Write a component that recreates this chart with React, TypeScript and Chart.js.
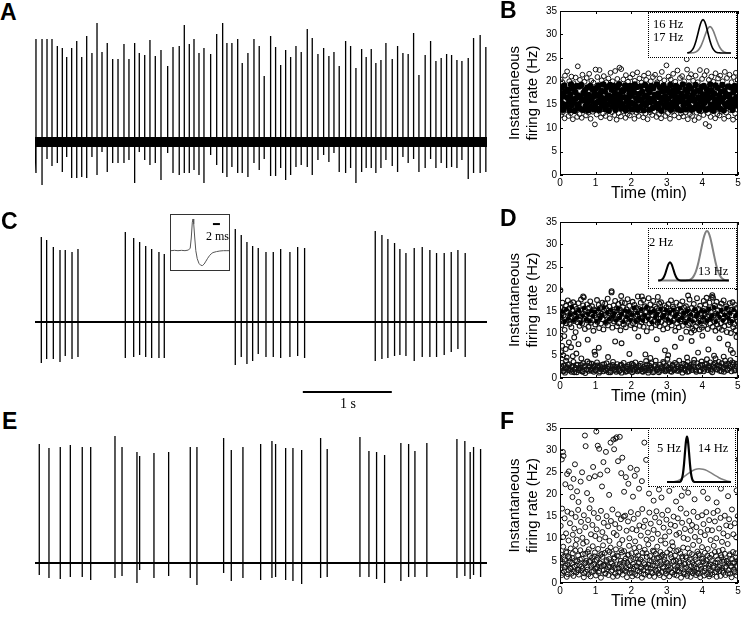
import React, { useEffect, useRef } from "react";
import { Chart, registerables } from "chart.js";
Chart.register(...registerables);

const SANS = '"Liberation Sans", Arial, Helvetica, sans-serif';
const SERIF = '"Liberation Serif", "Times New Roman", Times, serif';

// ---------------- traces (time in s, amplitude in arbitrary units, baseline 0) -------------
const TRACE_DURATION_S = 5.08;

const traceASpikeTimes = [0.011,0.079,0.135,0.191,0.251,0.307,0.356,0.412,0.469,0.525,0.581,0.640,0.697,0.753,0.812,0.873,0.933,1.000,1.056,1.120,1.172,1.233,1.292,1.352,1.416,1.491,1.551,1.621,1.678,1.734,1.787,1.843,1.899,1.974,2.042,2.109,2.157,2.213,2.278,2.329,2.393,2.461,2.520,2.576,2.648,2.704,2.761,2.817,2.873,2.933,2.992,3.060,3.116,3.180,3.244,3.303,3.360,3.419,3.491,3.547,3.607,3.671,3.722,3.779,3.831,3.888,3.944,4.015,4.075,4.135,4.194,4.255,4.315,4.385,4.446,4.506,4.565,4.626,4.682,4.742,4.798,4.869,4.929,5.003,5.067];
const traceAPeaks = [103,103,103,103,96,94,85,94,101,85,106,89,119,90,99,83,83,98,83,99,89,87,102,86,92,76,95,96,117,98,103,89,94,88,108,119,99,99,103,79,89,103,96,66,106,95,77,92,85,96,90,113,104,88,94,86,90,76,101,96,74,93,85,93,79,82,99,83,96,89,88,109,67,87,101,81,84,88,87,82,81,84,104,107,95];
const traceATroughs = [-31,-43,-17,-24,-21,-30,-15,-36,-36,-35,-36,-15,-33,-10,-30,-21,-21,-21,-18,-41,-10,-18,-23,-21,-38,-11,-31,-33,-31,-31,-28,-33,-41,-13,-23,-31,-35,-25,-31,-31,-35,-21,-28,-17,-34,-34,-26,-38,-33,-25,-23,-25,-33,-18,-13,-20,-11,-30,-31,-26,-41,-30,-26,-26,-31,-26,-18,-24,-30,-15,-21,-17,-30,-26,-17,-26,-21,-26,-25,-26,-18,-37,-31,-31,-30];

const traceCSpikeTimes = [0.071,0.131,0.206,0.281,0.340,0.416,0.483,1.015,1.109,1.176,1.244,1.311,1.393,1.453,2.251,2.318,2.382,2.446,2.509,2.596,2.678,2.761,2.865,2.952,3.030,3.824,3.899,3.966,4.041,4.101,4.169,4.262,4.352,4.438,4.513,4.599,4.678,4.753,4.835];
const traceCPeaks = [85,82,75,72,72,70,73,90,84,80,76,73,70,68,93,87,80,76,74,70,70,73,70,75,74,91,87,83,79,73,69,74,75,72,69,69,70,72,69];
const traceCTroughs = [-41,-37,-37,-40,-34,-37,-35,-36,-35,-33,-35,-36,-36,-36,-43,-35,-42,-39,-32,-35,-35,-36,-35,-34,-36,-39,-37,-36,-34,-33,-34,-39,-35,-35,-35,-33,-30,-27,-35];
const scaleBarStartS = 3.01;
const scaleBarLengthS = 1;
const scaleBarLevel = -70;

const traceESpikeTimes = [0.048,0.157,0.284,0.397,0.531,0.626,0.899,0.978,1.146,1.176,1.337,1.502,1.745,1.820,2.120,2.206,2.337,2.536,2.663,2.704,2.817,2.899,2.997,3.210,3.284,3.652,3.753,3.839,3.929,4.112,4.199,4.270,4.404,4.742,4.831,4.891,4.929,5.008];
const traceEPeaks = [119,115,116,118,116,116,127,116,111,107,110,111,116,116,125,113,116,119,122,119,115,115,113,125,114,126,112,111,108,120,119,112,120,124,122,111,116,114];
const traceETroughs = [-12,-15,-16,-14,-14,-17,-15,-13,-20,-7,-15,-13,-15,-22,-10,-18,-15,-17,-15,-14,-17,-18,-21,-15,-14,-14,-14,-16,-20,-18,-14,-14,-14,-15,-13,-16,-12,-14];

// ---------------- inset C: average spike waveform (ms, normalised) --------------------------
const insetCTimesMs = [0,1,2,3,4,5,5.5,5.8,6.1,6.3,6.5,6.8,7.1,7.5,8,8.5,9,9.5,10,10.5,11,11.5,12,13,14,15,16,16.6];
const insetCWave = [0,0.01,0,0.01,0,0.02,0.08,0.4,0.9,1.0,0.85,0.4,0,-0.25,-0.4,-0.46,-0.47,-0.42,-0.33,-0.24,-0.16,-0.1,-0.06,-0.03,-0.01,0,0,0];
const insetCBarMs = [12, 14];
const insetCBarLevel = 0.84;

// ---------------- rate distributions in insets ----------------------------------------------
const insetBHz = [13.75,14,14.25,14.5,14.75,15,15.25,15.5,15.75,16,16.25,16.5,16.75,17,17.25,17.5,17.75,18,18.25,18.5,18.75,19,19.25,19.5,19.75,20];
const insetBBlack = [0.006,0.017,0.044,0.10,0.203,0.36,0.563,0.775,0.938,1,0.938,0.775,0.563,0.36,0.203,0.10,0.044,0.017,0.006,0.002,0,0,0,0,0,0];
const insetBGray = [0,0.001,0.002,0.006,0.015,0.035,0.072,0.136,0.23,0.36,0.51,0.65,0.75,0.79,0.75,0.65,0.51,0.36,0.23,0.136,0.072,0.035,0.015,0.006,0.002,0.001];

const insetDHz = [-1.5,-1,-0.5,0,0.5,1,1.5,2,2.5,3,3.5,4,4.5,5,5.5,6,6.5,7,7.5,8,8.5,9,9.5,10,10.5,11,11.5,12,12.5,13,13.5,14,14.5,15,15.5,16,16.5,17,17.5,18,18.5,19,19.5];
const insetDBlack = [0,0.004,0.016,0.05,0.12,0.225,0.326,0.37,0.326,0.225,0.12,0.05,0.016,0.004,0,0,0,0,0,0,0,0,0,0,0,0,0,0,0,0,0,0,0,0,0,0,0,0,0,0,0,0,0];
const insetDGray = [0,0,0,0,0,0,0,0,0,0,0,0,0,0,0,0,0.002,0.004,0.009,0.021,0.044,0.085,0.151,0.25,0.381,0.54,0.707,0.857,0.962,1,0.962,0.857,0.707,0.54,0.381,0.25,0.151,0.085,0.044,0.021,0.009,0.004,0.002];

const insetFBlackHz = [0,3,3.25,3.5,3.75,4,4.25,4.5,4.75,5,5.25,5.5,5.75,6,6.25,6.5,6.75,7,16];
const insetFBlack = [0,0,0.005,0.024,0.076,0.19,0.39,0.66,0.9,1,0.9,0.66,0.39,0.19,0.076,0.024,0.005,0,0];
const insetFGrayHz = [0,1,2,3,4,5,6,7,8,9,10,11,12,13,14,15,16];
const insetFGray = [0,0.002,0.01,0.04,0.1,0.17,0.23,0.275,0.29,0.28,0.25,0.2,0.145,0.095,0.055,0.025,0.008];

// ---------------- instantaneous firing rate scatter (t in min, rate in Hz) --------------------
type P = [number, number];
const rateBCore: P[] = [
[0.01,16.2],[0.02,14.1],[0.04,18.6],[0.05,15.3],[0.07,17.4],[0.09,13.9],[0.11,16.8],[0.12,19.1],[0.14,15.0],[0.16,17.9],[0.19,14.6],[0.21,16.5],[0.23,18.2],
[0.26,15.7],[0.27,13.8],[0.29,17.2],[0.31,19.3],[0.33,14.9],[0.35,16.1],[0.37,18.4],[0.39,15.5],[0.41,13.7],[0.43,17.7],[0.45,16.4],[0.47,19.0],[0.49,14.4],
[0.51,17.0],[0.52,15.1],[0.54,18.9],[0.56,14.2],[0.58,16.6],[0.6,19.2],[0.62,15.9],[0.64,13.9],[0.66,17.5],[0.68,16.0],[0.7,18.1],[0.72,14.7],[0.74,16.9],
[0.76,15.4],[0.77,18.7],[0.79,13.8],[0.81,17.1],[0.83,16.3],[0.85,19.0],[0.87,14.5],[0.89,15.8],[0.91,18.3],[0.93,16.7],[0.95,14.0],[0.97,17.6],[0.99,15.2],
[1.01,18.5],[1.02,14.3],[1.04,16.9],[1.06,15.6],[1.08,19.1],[1.1,13.9],[1.12,17.3],[1.14,16.0],[1.16,18.0],[1.18,14.8],[1.2,16.4],[1.22,19.3],[1.24,15.3],
[1.26,17.8],[1.27,14.1],[1.29,16.2],[1.31,18.8],[1.33,15.0],[1.35,17.0],[1.37,13.7],[1.39,16.8],[1.41,19.2],[1.43,15.7],[1.45,18.2],[1.47,14.6],[1.49,16.5],
[1.51,19.0],[1.52,15.4],[1.54,17.5],[1.56,13.9],[1.58,16.1],[1.6,18.6],[1.62,14.9],[1.64,17.2],[1.66,19.4],[1.68,15.9],[1.7,16.7],[1.72,14.2],[1.74,18.1],
[1.76,15.1],[1.77,17.9],[1.79,14.4],[1.81,16.6],[1.83,19.1],[1.85,13.8],[1.87,15.7],[1.89,18.4],[1.91,16.3],[1.93,14.7],[1.95,17.4],[1.97,19.0],[1.99,15.5],
[2.01,16.9],[2.02,14.0],[2.04,18.2],[2.06,15.2],[2.08,17.6],[2.1,19.3],[2.12,14.8],[2.14,16.4],[2.16,18.8],[2.18,13.9],[2.2,15.9],[2.22,17.3],[2.24,16.1],
[2.26,14.5],[2.27,18.9],[2.29,16.0],[2.31,17.8],[2.33,15.3],[2.35,13.8],[2.37,16.7],[2.39,19.2],[2.41,14.9],[2.43,17.0],[2.45,15.6],[2.47,18.3],[2.49,16.4],
[2.51,13.9],[2.52,17.7],[2.54,15.5],[2.56,19.0],[2.58,16.2],[2.6,14.3],[2.62,18.5],[2.64,15.8],[2.66,17.1],[2.68,14.6],[2.7,16.9],[2.72,19.3],[2.74,15.1],
[2.76,17.4],[2.77,14.2],[2.79,16.6],[2.81,18.7],[2.83,15.4],[2.85,13.7],[2.87,17.9],[2.89,16.1],[2.91,19.1],[2.93,14.8],[2.95,16.8],[2.97,18.0],[2.99,15.7],
[3.01,14.4],[3.02,18.4],[3.04,16.3],[3.06,15.0],[3.08,17.6],[3.1,19.2],[3.12,13.9],[3.14,16.9],[3.16,15.5],[3.18,18.1],[3.2,14.7],[3.22,17.2],[3.24,16.0],
[3.26,19.0],[3.27,15.2],[3.29,17.8],[3.31,14.1],[3.33,16.5],[3.35,18.6],[3.37,15.8],[3.39,13.8],[3.41,17.3],[3.43,16.2],[3.45,19.3],[3.47,14.9],[3.49,16.7],
[3.51,15.3],[3.52,18.2],[3.54,14.0],[3.56,16.8],[3.58,17.7],[3.6,15.6],[3.62,19.1],[3.64,14.5],[3.66,16.4],[3.68,18.5],[3.7,13.9],[3.72,17.0],[3.74,15.9],
[3.76,17.5],[3.77,14.3],[3.79,16.1],[3.81,19.2],[3.83,15.1],[3.85,18.0],[3.87,14.8],[3.89,16.6],[3.91,13.8],[3.93,17.9],[3.95,15.7],[3.97,18.8],[3.99,16.3],
[4.01,14.6],[4.02,17.2],[4.04,19.0],[4.06,15.4],[4.08,16.9],[4.1,13.9],[4.12,18.3],[4.14,15.9],[4.16,17.6],[4.18,14.2],[4.2,16.5],[4.22,19.3],[4.24,15.0],
[4.26,18.1],[4.27,14.9],[4.29,16.7],[4.31,13.7],[4.33,17.4],[4.35,15.6],[4.37,19.1],[4.39,16.0],[4.41,14.4],[4.43,18.6],[4.45,15.2],[4.47,17.0],[4.49,16.3],
[4.51,14.1],[4.52,17.8],[4.54,15.8],[4.56,19.2],[4.58,16.4],[4.6,13.8],[4.62,18.0],[4.64,15.1],[4.66,17.3],[4.68,14.7],[4.7,16.8],[4.72,18.9],[4.74,15.5],
[4.76,17.1],[4.77,14.5],[4.79,16.2],[4.81,18.7],[4.83,15.3],[4.85,13.9],[4.87,17.7],[4.89,16.0],[4.91,19.0],[4.93,14.8],[4.95,16.6],[4.97,18.2],[4.99,15.6]];
const rateBFringe: P[] = [
[0.03,12.8],[0.08,13.4],[0.13,12.1],[0.18,13.9],[0.24,12.6],[0.3,13.2],[0.36,11.9],[0.42,13.6],[0.48,12.4],[0.55,13.0],[0.61,12.2],[0.67,13.8],[0.73,12.7],[0.8,13.3],[0.86,12.0],[0.92,13.5],[0.98,10.8],[1.03,12.9],[1.09,13.7],[1.15,12.3],[1.21,13.1],[1.28,12.6],[1.34,13.9],[1.4,12.1],[1.46,13.4],[1.53,12.8],[1.59,11.8],[1.65,13.2],[1.71,12.5],[1.78,13.6],[1.84,12.2],[1.9,13.0],[1.96,12.7],[2.03,13.5],[2.09,12.0],[2.15,13.3],[2.21,12.6],[2.28,13.8],[2.34,12.3],[2.4,13.1],[2.46,11.9],[2.53,13.4],[2.59,12.8],[2.65,13.6],[2.71,12.4],[2.78,13.0],[2.84,12.1],[2.9,13.7],[2.96,12.6],[3.03,13.2],[3.09,12.0],[3.15,13.5],[3.21,12.7],[3.28,13.9],[3.34,12.3],[3.4,13.1],[3.46,12.5],[3.53,13.4],[3.59,11.9],[3.65,13.0],[3.71,12.6],[3.78,11.7],[3.84,13.3],[3.9,12.2],[3.96,13.6],[4.03,12.8],[4.09,10.9],[4.16,13.2],[4.19,10.4],[4.23,12.4],[4.29,13.7],[4.36,12.1],[4.42,13.0],[4.48,12.7],[4.55,13.5],[4.61,12.0],[4.67,13.3],[4.73,12.5],[4.8,13.8],[4.86,11.8],[4.92,13.1],[4.98,12.3],
[0.02,20.4],[0.07,19.8],[0.14,21.2],[0.2,22.1],[0.26,20.0],[0.32,21.0],[0.38,19.6],[0.44,20.8],[0.5,23.2],[0.56,20.3],[0.63,21.4],[0.69,19.9],[0.75,20.7],[0.82,21.6],[0.88,20.1],[0.94,19.7],[1.0,22.5],[1.05,20.9],[1.11,22.4],[1.17,20.2],[1.23,21.1],[1.3,19.8],[1.36,20.6],[1.42,21.8],[1.48,20.0],[1.55,22.2],[1.61,20.5],[1.67,22.9],[1.72,22.6],[1.78,20.4],[1.85,21.3],[1.91,19.9],[1.97,20.8],[2.04,21.5],[2.1,20.1],[2.17,21.9],[2.23,20.6],[2.29,19.7],[2.36,21.2],[2.42,20.3],[2.48,21.7],[2.55,20.0],[2.61,20.9],[2.67,21.4],[2.73,19.8],[2.8,20.6],[2.86,22.0],[2.93,20.2],[2.99,23.4],[3.05,21.0],[3.11,20.4],[3.18,21.6],[3.24,19.9],[3.3,22.3],[3.37,20.7],[3.43,21.1],[3.49,20.0],[3.56,24.7],[3.57,22.5],[3.62,20.8],[3.68,21.5],[3.74,20.1],[3.81,21.2],[3.87,19.8],[3.93,22.4],[3.99,20.5],[4.06,21.3],[4.12,22.2],[4.18,20.3],[4.25,21.0],[4.31,19.9],[4.37,21.7],[4.44,20.6],[4.5,21.2],[4.57,20.0],[4.63,22.0],[4.69,20.7],[4.76,21.4],[4.82,19.8],[4.88,20.9],[4.94,21.8],[4.99,20.3]];

const rateDCore: P[] = [
[0.03,13.8],[0.08,14.9],[0.13,12.6],[0.18,15.4],[0.23,13.3],[0.28,14.2],[0.33,15.9],[0.38,12.9],[0.43,14.6],[0.48,13.6],[0.53,15.2],[0.58,12.4],[0.63,14.0],[0.68,15.7],[0.73,13.1],[0.78,14.4],[0.83,12.7],[0.88,15.0],[0.93,13.9],[0.98,14.8],
[1.03,12.8],[1.08,15.5],[1.13,13.4],[1.18,14.1],[1.23,15.8],[1.28,12.5],[1.33,14.7],[1.38,13.2],[1.43,15.3],[1.48,13.8],[1.53,14.5],[1.58,12.9],[1.63,15.6],[1.68,13.5],[1.73,14.3],[1.78,12.6],[1.83,15.1],[1.88,13.7],[1.93,14.9],[1.98,13.0],
[2.03,14.2],[2.08,15.7],[2.13,12.7],[2.18,14.6],[2.23,13.4],[2.28,15.4],[2.33,12.9],[2.38,14.0],[2.43,15.9],[2.48,13.3],[2.53,14.8],[2.58,12.5],[2.63,15.0],[2.68,13.7],[2.73,14.4],[2.78,12.8],[2.83,15.5],[2.88,13.6],[2.93,14.1],[2.98,15.2],
[3.03,13.1],[3.08,14.7],[3.13,12.6],[3.18,15.3],[3.23,13.9],[3.28,14.3],[3.33,12.9],[3.38,15.6],[3.43,13.5],[3.48,14.6],[3.53,12.4],[3.58,15.0],[3.63,13.2],[3.68,14.2],[3.73,12.7],[3.78,15.4],[3.83,13.8],[3.88,14.5],[3.93,12.5],[3.98,15.1],
[4.03,13.6],[4.08,14.9],[4.13,12.8],[4.18,15.5],[4.23,13.3],[4.28,14.0],[4.33,15.8],[4.38,12.6],[4.43,14.4],[4.48,13.7],[4.53,15.2],[4.58,12.9],[4.63,14.1],[4.68,15.7],[4.73,13.4],[4.78,14.6],[4.83,12.7],[4.88,15.3],[4.93,13.9],[4.98,14.3]];
const rateDHigh: P[] = [
[0.01,13.2],[0.02,15.8],[0.04,11.9],[0.05,14.6],[0.07,16.9],[0.08,12.7],[0.1,14.1],[0.12,15.3],[0.13,10.8],[0.15,13.7],[0.17,16.2],[0.18,12.3],[0.2,14.9],[0.22,17.4],[0.24,13.0],
[0.26,15.6],[0.27,12.1],[0.29,14.4],[0.3,16.6],[0.32,11.4],[0.34,13.5],[0.35,15.1],[0.37,17.0],[0.39,12.8],[0.4,14.0],[0.42,16.0],[0.44,10.3],[0.45,13.9],[0.47,15.5],[0.49,12.5],
[0.51,14.8],[0.52,16.8],[0.54,13.1],[0.55,11.7],[0.57,15.2],[0.59,17.6],[0.6,13.8],[0.62,12.2],[0.64,14.5],[0.65,16.3],[0.67,18.1],[0.69,13.3],[0.7,11.0],[0.72,15.0],[0.74,14.2],
[0.76,16.5],[0.77,12.9],[0.79,14.7],[0.8,11.5],[0.82,15.8],[0.84,13.4],[0.85,17.2],[0.87,12.4],[0.89,14.3],[0.9,16.1],[0.92,13.0],[0.94,10.6],[0.95,15.4],[0.97,14.0],[0.99,12.0],
[1.01,15.1],[1.02,13.6],[1.04,17.5],[1.05,12.6],[1.07,14.8],[1.09,16.4],[1.1,11.2],[1.12,13.9],[1.14,15.7],[1.15,12.2],[1.17,14.4],[1.19,16.9],[1.2,13.2],[1.22,10.9],[1.24,15.2],
[1.26,14.1],[1.27,16.7],[1.29,12.4],[1.3,15.5],[1.32,13.7],[1.34,17.8],[1.35,11.8],[1.37,14.6],[1.39,16.0],[1.4,12.9],[1.42,15.0],[1.44,13.3],[1.45,19.2],[1.47,11.3],[1.49,14.3],
[1.51,16.3],[1.52,12.7],[1.54,14.9],[1.55,17.3],[1.57,13.1],[1.59,15.6],[1.6,11.6],[1.62,14.2],[1.64,16.6],[1.65,12.3],[1.67,13.8],[1.69,15.3],[1.7,10.7],[1.72,14.7],[1.74,17.0],
[1.76,13.5],[1.77,15.9],[1.79,12.0],[1.8,14.4],[1.82,16.8],[1.84,13.0],[1.85,11.4],[1.87,15.4],[1.89,14.0],[1.9,17.7],[1.92,12.6],[1.94,14.8],[1.95,16.2],[1.97,13.3],[1.99,11.9],
[2.01,15.0],[2.02,13.6],[2.04,17.1],[2.05,12.3],[2.07,14.5],[2.09,16.4],[2.1,11.1],[2.12,13.9],[2.14,15.8],[2.15,12.8],[2.17,14.2],[2.19,18.3],[2.2,13.1],[2.22,15.5],[2.24,11.7],
[2.26,14.6],[2.27,16.9],[2.29,12.5],[2.3,15.2],[2.32,13.4],[2.34,17.5],[2.35,11.5],[2.37,14.0],[2.39,16.1],[2.4,12.9],[2.42,14.9],[2.44,10.5],[2.45,15.7],[2.47,13.7],[2.49,17.9],
[2.51,12.2],[2.52,14.7],[2.54,16.5],[2.55,13.2],[2.57,11.3],[2.59,15.3],[2.6,14.1],[2.62,17.3],[2.64,12.7],[2.65,14.8],[2.67,16.0],[2.69,11.9],[2.7,13.6],[2.72,15.6],[2.74,12.4],
[2.76,15.0],[2.77,13.3],[2.79,16.7],[2.8,11.6],[2.82,14.3],[2.84,17.0],[2.85,12.6],[2.87,15.4],[2.89,13.8],[2.9,10.9],[2.92,14.6],[2.94,16.3],[2.95,12.1],[2.97,14.0],[2.99,15.9],
[3.01,13.0],[3.02,11.2],[3.04,14.8],[3.05,16.6],[3.07,12.5],[3.09,15.1],[3.1,13.7],[3.12,17.4],[3.14,11.8],[3.15,14.4],[3.17,16.0],[3.19,12.9],[3.2,15.6],[3.22,13.3],[3.24,10.6],
[3.26,14.7],[3.27,16.9],[3.29,12.3],[3.3,15.3],[3.32,13.6],[3.34,11.4],[3.35,14.1],[3.37,16.4],[3.39,12.8],[3.4,15.0],[3.42,13.2],[3.44,17.2],[3.45,11.7],[3.47,14.5],[3.49,15.8],
[3.51,12.6],[3.52,14.2],[3.54,16.1],[3.55,10.4],[3.57,13.5],[3.59,15.4],[3.6,11.9],[3.62,14.8],[3.64,17.6],[3.65,12.2],[3.67,13.9],[3.69,10.2],[3.7,15.7],[3.72,11.1],[3.74,14.4],
[3.76,16.6],[3.77,10.7],[3.79,13.1],[3.8,15.2],[3.82,11.6],[3.84,14.0],[3.85,17.9],[3.87,12.4],[3.89,15.5],[3.9,13.4],[3.92,10.9],[3.94,16.2],[3.95,12.9],[3.97,14.6],[3.99,11.3],
[4.01,15.1],[4.02,13.0],[4.04,17.3],[4.05,11.8],[4.07,14.3],[4.09,16.5],[4.1,12.6],[4.12,18.0],[4.14,13.8],[4.15,11.0],[4.17,15.4],[4.19,14.1],[4.2,16.9],[4.22,12.2],[4.24,14.8],
[4.26,13.4],[4.27,18.2],[4.29,11.5],[4.3,15.8],[4.32,14.0],[4.34,12.7],[4.35,16.3],[4.37,10.6],[4.39,14.5],[4.4,17.1],[4.42,12.0],[4.44,15.2],[4.45,13.6],[4.47,11.2],[4.49,16.0],
[4.51,14.2],[4.52,12.3],[4.54,16.7],[4.55,10.8],[4.57,15.0],[4.59,13.3],[4.6,17.4],[4.62,11.6],[4.64,14.7],[4.65,12.8],[4.67,16.1],[4.69,10.3],[4.7,13.9],[4.72,15.5],[4.74,11.9],
[4.76,14.4],[4.77,16.8],[4.79,12.5],[4.8,10.1],[4.82,15.3],[4.84,13.1],[4.85,17.0],[4.87,11.4],[4.89,14.9],[4.9,12.1],[4.92,16.4],[4.94,10.7],[4.95,13.7],[4.97,15.7],[4.99,12.7]];
const rateDLow: P[] = [
[0.02,2.1],[0.05,3.4],[0.08,1.6],[0.11,2.8],[0.14,1.2],[0.17,3.9],[0.2,2.4],[0.23,1.8],[0.26,3.1],[0.29,2.0],[0.32,1.4],[0.35,2.7],[0.38,3.6],[0.41,1.9],[0.44,2.3],[0.47,1.3],[0.5,3.0],[0.53,2.2],[0.56,1.7],[0.59,2.9],[0.62,1.5],[0.65,3.3],[0.68,2.5],[0.71,1.1],[0.74,2.0],[0.77,3.7],[0.8,1.6],[0.83,2.6],[0.86,1.9],[0.89,3.2],[0.92,2.2],[0.95,1.4],[0.98,2.8],
[1.01,1.7],[1.04,3.5],[1.07,2.3],[1.1,1.2],[1.13,2.6],[1.16,1.9],[1.19,3.0],[1.22,1.5],[1.25,2.4],[1.28,1.8],[1.31,3.3],[1.34,2.1],[1.37,1.3],[1.4,2.7],[1.43,1.6],[1.46,2.2],[1.49,3.6],[1.52,1.9],[1.55,2.5],[1.58,1.4],[1.61,3.1],[1.64,2.0],[1.67,1.7],[1.7,2.8],[1.73,1.2],[1.76,2.3],[1.79,3.4],[1.82,1.8],[1.85,2.6],[1.88,1.5],[1.91,2.1],[1.94,3.0],[1.97,1.6],
[2.0,2.4],[2.03,1.3],[2.06,2.9],[2.09,1.9],[2.12,3.5],[2.15,2.2],[2.18,1.5],[2.21,2.7],[2.24,1.8],[2.27,3.2],[2.3,2.0],[2.33,1.4],[2.36,2.5],[2.39,1.7],[2.42,3.8],[2.45,2.3],[2.48,1.2],[2.51,2.8],[2.54,1.9],[2.57,3.3],[2.6,2.1],[2.63,1.6],[2.66,2.6],[2.69,3.9],[2.72,1.8],[2.75,2.4],[2.78,1.3],[2.81,3.0],[2.84,2.2],[2.87,1.7],[2.9,3.6],[2.93,2.0],[2.96,1.5],[2.99,2.7],
[3.02,4.3],[3.05,1.9],[3.08,3.1],[3.11,2.3],[3.14,1.4],[3.17,2.9],[3.2,1.8],[3.23,3.4],[3.26,2.2],[3.29,1.6],[3.32,2.6],[3.35,3.9],[3.38,1.9],[3.41,2.4],[3.44,1.2],[3.47,3.2],[3.5,2.1],[3.53,1.7],[3.56,2.8],[3.59,3.6],[3.62,1.5],[3.65,2.3],[3.68,3.0],[3.71,1.8],[3.74,2.6],[3.77,4.1],[3.8,2.0],[3.83,1.4],[3.86,3.3],[3.89,2.5],[3.92,1.7],[3.95,2.9],[3.98,3.7],
[4.01,2.2],[4.04,1.5],[4.07,3.1],[4.1,2.4],[4.13,4.2],[4.16,1.8],[4.19,2.7],[4.22,3.5],[4.25,2.0],[4.28,1.3],[4.31,3.0],[4.34,2.3],[4.37,4.4],[4.4,1.9],[4.43,2.8],[4.46,3.6],[4.49,1.6],[4.52,2.5],[4.55,3.3],[4.58,2.0],[4.61,1.4],[4.64,3.9],[4.67,2.7],[4.7,1.8],[4.73,3.2],[4.76,2.2],[4.79,4.0],[4.82,1.5],[4.85,2.9],[4.88,3.4],[4.91,2.1],[4.94,1.7],[4.97,2.6],[4.99,3.2],
[0.04,2.6],[0.1,1.5],[0.16,2.2],[0.22,3.0],[0.28,1.7],[0.34,2.4],[0.4,1.3],[0.46,2.9],[0.52,1.8],[0.58,2.3],[0.64,1.4],[0.7,2.7],[0.76,1.9],[0.82,3.3],[0.88,1.6],[0.94,2.5],[1.0,1.9],[1.06,2.8],[1.12,1.5],[1.18,2.2],[1.24,3.1],[1.3,1.7],[1.36,2.5],[1.42,1.3],[1.48,2.9],[1.54,1.8],[1.6,2.4],[1.66,1.5],[1.72,3.0],[1.78,2.0],[1.84,1.4],[1.9,2.6],[1.96,1.9],[2.02,3.2],[2.08,1.6],[2.14,2.3],[2.2,1.8],[2.26,2.7],[2.32,1.5],[2.38,2.1],[2.44,3.0],[2.5,1.7],[2.56,2.4],[2.62,1.3],[2.68,2.9],[2.74,2.0],[2.8,1.6],[2.86,2.5],[2.92,3.3],[2.98,1.8],[3.04,2.2],[3.1,1.5],[3.16,2.8],[3.22,1.9],[3.28,3.1],[3.34,1.6],[3.4,2.3],[3.46,1.9],[3.52,3.0],[3.58,1.4],[3.64,2.6],[3.7,2.1],[3.76,3.4],[3.82,1.7],[3.88,2.5],[3.94,1.5],[4.0,2.9],[4.06,1.9],[4.12,3.2],[4.18,2.3],[4.24,1.6],[4.3,2.6],[4.36,3.3],[4.42,2.0],[4.48,2.8],[4.54,1.5],[4.6,2.4],[4.66,3.1],[4.72,1.9],[4.78,2.7],[4.84,3.5],[4.9,1.7],[4.96,2.5]];
const rateDSparse: P[] = [
[0.01,8.9],[0.03,5.8],[0.06,7.2],[0.09,5.1],[0.12,9.4],[0.16,6.5],[0.19,4.6],[0.25,8.0],[0.31,6.9],[0.36,4.9],[0.4,9.1],[0.46,5.5],[0.52,7.6],[0.6,4.4],[0.78,8.6],[0.97,5.9],[0.99,5.2],[1.09,6.8],[1.35,4.7],[1.55,8.2],[1.73,7.8],[1.95,5.4],[2.2,9.3],[2.4,5.3],[2.54,4.5],[2.72,8.7],[2.95,6.2],[3.04,5.1],[3.23,7.0],[3.4,9.0],[3.57,4.6],[3.7,8.3],[3.88,5.7],[4.0,9.5],[4.17,6.4],[4.33,5.0],[4.48,8.9],[4.6,4.8],[4.72,7.5],[4.8,6.3],[4.86,5.6],[4.96,9.2],
[0.01,19.7],[0.65,18.3],[1.45,19.5],[1.72,18.4],[2.3,18.3],[2.75,18.2],[3.6,18.5],[4.28,18.6],[4.3,18.0]];

const rateFLow: P[] = [
[0.01,3.1],[0.03,6.4],[0.05,1.8],[0.07,4.7],[0.09,8.2],[0.11,2.6],[0.13,5.3],[0.15,3.9],[0.17,7.1],[0.19,1.4],[0.21,4.2],[0.23,6.0],[0.24,2.9],
[0.26,5.6],[0.28,3.4],[0.3,7.8],[0.32,2.1],[0.34,4.5],[0.36,6.7],[0.38,1.6],[0.4,3.7],[0.42,5.1],[0.44,8.6],[0.46,2.4],[0.48,4.9],[0.49,3.0],
[0.51,6.2],[0.53,1.9],[0.55,4.0],[0.57,7.4],[0.59,2.8],[0.61,5.5],[0.63,3.3],[0.65,8.9],[0.67,1.3],[0.69,4.4],[0.71,6.6],[0.73,2.5],[0.74,5.0],
[0.76,3.6],[0.78,7.0],[0.8,2.0],[0.82,4.8],[0.84,6.1],[0.86,1.5],[0.88,3.9],[0.9,5.7],[0.92,8.3],[0.94,2.7],[0.96,4.3],[0.98,6.9],[0.99,3.2],
[1.01,1.7],[1.03,5.2],[1.05,3.5],[1.07,7.7],[1.09,2.3],[1.11,4.6],[1.13,6.3],[1.15,1.2],[1.17,3.8],[1.19,5.9],[1.21,8.5],[1.23,2.9],[1.24,4.1],
[1.26,6.8],[1.28,2.2],[1.3,4.9],[1.32,3.1],[1.34,7.3],[1.36,1.8],[1.38,5.4],[1.4,3.6],[1.42,8.0],[1.44,2.6],[1.46,4.4],[1.48,6.5],[1.49,1.4],
[1.51,3.9],[1.53,5.8],[1.55,2.1],[1.57,7.6],[1.59,4.2],[1.61,1.6],[1.63,6.0],[1.65,3.3],[1.67,8.8],[1.69,2.5],[1.71,5.0],[1.73,3.7],[1.74,6.9],
[1.76,1.9],[1.78,4.6],[1.8,7.2],[1.82,2.8],[1.84,5.5],[1.86,3.4],[1.88,1.3],[1.9,6.3],[1.92,4.0],[1.94,8.4],[1.96,2.3],[1.98,5.1],[1.99,3.0],
[2.01,6.7],[2.03,1.5],[2.05,4.3],[2.07,3.2],[2.09,7.9],[2.11,2.0],[2.13,5.6],[2.15,3.8],[2.17,1.7],[2.19,6.2],[2.21,4.7],[2.23,8.1],[2.24,2.6],
[2.26,5.3],[2.28,3.5],[2.3,1.2],[2.32,6.8],[2.34,2.9],[2.36,4.5],[2.38,7.5],[2.4,1.9],[2.42,3.6],[2.44,5.9],[2.46,2.4],[2.48,8.7],[2.49,4.1],
[2.51,1.6],[2.53,6.1],[2.55,3.3],[2.57,4.9],[2.59,2.2],[2.61,7.3],[2.63,5.4],[2.65,1.4],[2.67,3.9],[2.69,6.6],[2.71,2.7],[2.73,8.2],[2.74,4.4],
[2.76,3.0],[2.78,5.7],[2.8,1.8],[2.82,7.0],[2.84,4.2],[2.86,2.5],[2.88,6.4],[2.9,3.7],[2.92,1.3],[2.94,5.2],[2.96,8.9],[2.98,2.1],[2.99,4.6],
[3.01,6.9],[3.03,2.8],[3.05,4.0],[3.07,1.5],[3.09,7.6],[3.11,3.4],[3.13,5.8],[3.15,2.3],[3.17,8.3],[3.19,4.8],[3.21,1.9],[3.23,6.2],[3.24,3.1],
[3.26,5.0],[3.28,1.7],[3.3,3.6],[3.32,7.4],[3.34,2.6],[3.36,4.5],[3.38,6.7],[3.4,1.2],[3.42,3.9],[3.44,5.6],[3.46,8.0],[3.48,2.4],[3.49,4.3],
[3.51,2.0],[3.53,6.0],[3.55,3.5],[3.57,1.6],[3.59,7.8],[3.61,4.7],[3.63,2.9],[3.65,5.3],[3.67,1.4],[3.69,3.8],[3.71,6.5],[3.73,2.2],[3.74,8.6],
[3.76,4.1],[3.78,2.7],[3.8,5.9],[3.82,1.8],[3.84,3.2],[3.86,7.1],[3.88,4.6],[3.9,2.1],[3.92,6.3],[3.94,1.3],[3.96,3.7],[3.98,5.5],[3.99,8.1],
[4.01,2.5],[4.03,4.9],[4.05,1.7],[4.07,6.8],[4.09,3.3],[4.11,5.1],[4.13,2.0],[4.15,7.7],[4.17,3.9],[4.19,1.5],[4.21,5.7],[4.23,4.2],[4.24,2.8],
[4.26,6.4],[4.28,1.9],[4.3,3.5],[4.32,8.4],[4.34,2.4],[4.36,4.6],[4.38,6.1],[4.4,1.4],[4.42,3.1],[4.44,5.3],[4.46,7.2],[4.48,2.7],[4.49,4.0],
[4.51,1.6],[4.53,5.8],[4.55,3.4],[4.57,7.5],[4.59,2.3],[4.61,4.8],[4.63,6.6],[4.65,1.8],[4.67,3.7],[4.69,5.0],[4.71,8.8],[4.73,2.9],[4.74,4.4],
[4.76,6.2],[4.78,2.1],[4.8,3.9],[4.82,1.3],[4.84,5.4],[4.86,7.0],[4.88,3.0],[4.9,4.7],[4.92,2.4],[4.94,6.7],[4.96,1.7],[4.98,3.6],[4.99,5.1],
[0.02,4.4],[0.06,2.3],[0.1,5.9],[0.14,3.5],[0.18,6.8],[0.22,2.0],[0.27,4.8],[0.31,3.2],[0.35,5.6],[0.39,2.6],[0.43,7.3],[0.47,4.0],[0.52,2.9],[0.56,5.3],[0.6,3.7],[0.64,6.5],[0.68,2.2],[0.72,4.6],[0.77,3.0],[0.81,7.6],[0.85,5.0],[0.89,2.5],[0.93,4.1],[0.97,6.0],
[1.02,3.3],[1.06,5.7],[1.1,2.7],[1.14,4.4],[1.18,6.6],[1.22,3.9],[1.27,2.1],[1.31,5.2],[1.35,3.6],[1.39,7.0],[1.43,4.7],[1.47,2.9],[1.52,5.5],[1.56,3.4],[1.6,6.2],[1.64,2.4],[1.68,4.3],[1.72,7.4],[1.77,3.1],[1.81,5.0],[1.85,2.6],[1.89,4.6],[1.93,6.4],[1.97,3.8],
[2.02,2.3],[2.06,5.4],[2.1,3.7],[2.14,6.9],[2.18,2.8],[2.22,4.5],[2.27,3.2],[2.31,5.8],[2.35,2.0],[2.39,4.2],[2.43,6.7],[2.47,3.5],[2.52,5.1],[2.56,2.5],[2.6,4.0],[2.64,7.1],[2.68,3.0],[2.72,5.6],[2.77,2.2],[2.81,4.8],[2.85,6.1],[2.89,3.4],[2.93,5.9],[2.97,2.7],
[3.02,4.5],[3.06,3.0],[3.1,6.4],[3.14,2.4],[3.18,5.0],[3.22,3.8],[3.27,7.2],[3.31,2.9],[3.35,4.9],[3.39,3.3],[3.43,6.0],[3.47,2.1],[3.52,4.3],[3.56,5.7],[3.6,3.1],[3.64,6.8],[3.68,2.6],[3.72,4.7],[3.77,3.5],[3.81,5.3],[3.85,2.3],[3.89,6.6],[3.93,4.0],[3.97,3.2],
[4.02,5.5],[4.06,2.7],[4.1,4.4],[4.14,6.2],[4.18,3.3],[4.22,2.0],[4.27,5.1],[4.31,3.9],[4.35,7.0],[4.39,2.5],[4.43,4.6],[4.47,3.6],[4.52,6.3],[4.56,2.8],[4.6,5.2],[4.64,3.4],[4.68,4.9],[4.72,2.2],[4.77,6.5],[4.81,3.7],[4.85,4.5],[4.89,2.6],[4.93,5.8],[4.97,3.9]];
const rateFMid: P[] = [
[0.02,12.9],[0.06,16.8],[0.09,10.4],[0.13,14.6],[0.17,11.2],[0.21,16.1],[0.24,9.6],[0.28,13.5],[0.32,15.7],[0.36,10.9],[0.4,12.3],[0.44,14.9],[0.47,9.8],[0.51,16.5],[0.55,11.7],[0.59,13.8],[0.63,10.2],[0.67,15.3],[0.71,12.6],[0.75,9.3],[0.79,14.2],[0.83,16.9],[0.87,11.0],[0.91,13.1],[0.95,15.8],[0.99,10.6],
[1.03,12.1],[1.07,14.7],[1.11,9.9],[1.15,16.3],[1.19,11.5],[1.23,13.6],[1.27,10.3],[1.31,15.1],[1.35,12.8],[1.39,9.5],[1.43,14.0],[1.47,16.6],[1.51,11.3],[1.55,13.3],[1.59,10.8],[1.63,15.5],[1.67,12.4],[1.71,14.4],[1.75,9.7],[1.79,15.0],[1.83,15.2],[1.87,11.8],[1.91,13.9],[1.95,10.1],[1.99,16.0],
[2.03,12.2],[2.07,14.5],[2.11,9.4],[2.15,11.9],[2.19,15.6],[2.23,13.0],[2.27,10.7],[2.31,16.7],[2.35,12.7],[2.39,14.1],[2.43,9.8],[2.47,11.4],[2.51,15.9],[2.55,13.4],[2.59,10.0],[2.63,12.0],[2.67,14.8],[2.71,16.2],[2.75,11.1],[2.79,13.7],[2.83,9.6],[2.87,15.4],[2.91,12.5],[2.95,10.5],[2.99,14.3],
[3.03,16.4],[3.07,11.6],[3.11,13.2],[3.15,9.2],[3.19,15.0],[3.23,12.9],[3.27,10.9],[3.31,14.6],[3.35,11.3],[3.39,16.8],[3.43,13.6],[3.47,10.2],[3.51,12.2],[3.55,15.7],[3.59,9.9],[3.63,14.0],[3.67,11.8],[3.71,13.1],[3.75,16.1],[3.79,10.4],[3.83,12.6],[3.87,14.9],[3.91,9.5],[3.95,11.5],[3.99,15.3],
[4.03,13.3],[4.07,10.8],[4.11,16.0],[4.15,12.0],[4.19,14.2],[4.23,9.7],[4.27,11.9],[4.31,15.8],[4.35,13.9],[4.39,10.1],[4.43,16.3],[4.47,12.3],[4.51,14.7],[4.55,9.3],[4.59,11.2],[4.63,15.2],[4.67,13.0],[4.71,10.6],[4.75,14.4],[4.79,12.8],[4.83,16.6],[4.87,11.0],[4.91,13.5],[4.95,10.3],[4.99,15.1]];
const rateFHigh: P[] = [
[0.05,27.9],[0.1,28.7],[0.08,29.6],[0.15,22.3],[0.2,24.6],[0.25,25.2],[0.3,21.6],[0.35,19.4],[0.38,23.5],[0.42,26.8],[0.48,20.7],[0.52,18.3],[0.58,22.9],[0.62,25.0],[0.7,33.3],[0.72,30.9],[0.76,20.3],[0.82,23.7],[0.88,18.8],[0.93,26.2],[0.98,24.1],
[1.02,34.2],[1.06,31.0],[1.1,30.3],[1.13,24.5],[1.18,21.8],[1.22,27.3],[1.29,29.6],[1.33,25.4],[1.38,19.9],[1.42,31.7],[1.5,32.4],[1.52,30.2],[1.56,32.6],[1.59,32.9],[1.63,27.5],[1.68,33.0],[1.72,24.8],[1.75,28.3],[1.8,20.6],[1.85,23.9],[1.92,22.4],[1.98,26.0],
[2.05,19.5],[2.1,24.2],[2.16,25.6],[2.22,21.3],[2.3,23.0],[2.37,31.7],[2.42,27.8],[2.5,20.2],[2.57,22.7],[2.63,18.6],[2.7,25.9],[2.78,21.1],[2.85,19.3],[2.92,23.6],[3.0,27.0],[3.07,20.8],[3.12,34.9],[3.18,22.2],[3.26,18.4],[3.35,24.4],[3.42,19.7],[3.5,21.5],[3.6,20.4],[3.72,35.2],[3.78,18.9],[3.9,23.2],
[4.02,20.6],[4.15,19.1],[4.28,22.8],[4.4,18.2],[4.52,21.3],[4.63,24.7],[4.72,19.6],[4.8,22.5],[4.85,28.3],[4.9,27.9],[4.96,20.9]];

// ---------------- helpers -------------------------------------------------------------------
const toXY = (arr: P[]) => arr.map(([x, y]) => ({ x, y }));
const zipXY = (xs: number[], ys: number[]) => xs.map((x, i) => ({ x, y: ys[i] }));

function spikeTrain(times: number[], peaks: number[], troughs: number[]) {
  const pts: { x: number; y: number }[] = [{ x: 0, y: 0 }];
  times.forEach((t, i) => {
    pts.push({ x: t, y: 0 }, { x: t, y: peaks[i] }, { x: t, y: troughs[i] }, { x: t, y: 0 });
  });
  pts.push({ x: TRACE_DURATION_S, y: 0 });
  return pts;
}

const hidden = { display: false };
function plainConfig(datasets: any[], xMin: number, xMax: number, yMin: number, yMax: number) {
  return {
    type: "line",
    data: { datasets },
    options: {
      responsive: false,
      maintainAspectRatio: false,
      animation: false,
      events: [],
      layout: { padding: 0 },
      plugins: { legend: hidden, tooltip: { enabled: false } },
      elements: { point: { radius: 0 } },
      scales: {
        x: { type: "linear", display: false, min: xMin, max: xMax },
        y: { type: "linear", display: false, min: yMin, max: yMax },
      },
    },
  };
}

const lineDs = (data: any[], color: string, width: number, extra: any = {}) => ({
  data,
  borderColor: color,
  borderWidth: width,
  pointRadius: 0,
  fill: false,
  tension: 0,
  ...extra,
});

function traceConfig(times: number[], peaks: number[], troughs: number[], baseWidth: number, yMin: number, yMax: number, extras: any[] = []) {
  return plainConfig(
    [
      ...extras,
      lineDs(spikeTrain(times, peaks, troughs), "#000", 1.3),
      lineDs([{ x: 0, y: 0 }, { x: TRACE_DURATION_S, y: 0 }], "#000", baseWidth),
    ],
    0,
    TRACE_DURATION_S,
    yMin,
    yMax
  );
}

const framePlugin = {
  id: "frame",
  beforeDatasetsDraw(chart: any) {
    const { ctx, chartArea: a, scales } = chart;
    ctx.save();
    ctx.strokeStyle = "#000";
    ctx.lineWidth = 1;
    ctx.strokeRect(a.left + 0.5, a.top + 0.5, a.right - a.left - 1, a.bottom - a.top - 1);
    ctx.beginPath();
    scales.x.ticks.forEach((t: any) => {
      const px = Math.round(scales.x.getPixelForValue(t.value)) + 0.5;
      ctx.moveTo(px, a.bottom);
      ctx.lineTo(px, a.bottom - 3);
      ctx.moveTo(px, a.top);
      ctx.lineTo(px, a.top + 3);
    });
    scales.y.ticks.forEach((t: any) => {
      const py = Math.round(scales.y.getPixelForValue(t.value)) + 0.5;
      ctx.moveTo(a.left, py);
      ctx.lineTo(a.left + 3, py);
      ctx.moveTo(a.right, py);
      ctx.lineTo(a.right - 3, py);
    });
    ctx.stroke();
    ctx.restore();
  },
};

const ringDs = (pts: P[], r = 2.4, bw = 1) => ({
  data: toXY(pts),
  pointRadius: r,
  pointBorderWidth: bw,
  pointBorderColor: "#111",
  pointBackgroundColor: "rgba(0,0,0,0)",
  showLine: false,
});
const dotDs = (pts: P[], r = 3) => ({
  data: toXY(pts),
  pointRadius: r,
  pointBorderWidth: 0,
  pointBackgroundColor: "#000",
  showLine: false,
});

function scatterConfig(datasets: any[], padTop: number, padRight: number) {
  return {
    type: "scatter",
    data: { datasets },
    options: {
      responsive: false,
      maintainAspectRatio: false,
      animation: false,
      events: [],
      layout: { padding: { top: padTop, right: padRight, bottom: 0, left: 0 } },
      plugins: { legend: hidden, tooltip: { enabled: false } },
      scales: {
        x: {
          type: "linear",
          min: 0,
          max: 5,
          afterFit: (s: any) => { s.height = 35; },
          ticks: { stepSize: 1, padding: 2, color: "#000", maxRotation: 0, font: { family: SANS, size: 10 } },
          grid: { display: false, drawTicks: false },
          border: { display: false },
          title: { display: true, text: "Time (min)", color: "#000", font: { family: SANS, size: 16 }, padding: { top: 0, bottom: 7 } },
        },
        y: {
          type: "linear",
          min: 0,
          max: 35,
          afterFit: (s: any) => { s.width = 80; },
          ticks: { stepSize: 5, padding: 3, color: "#000", font: { family: SANS, size: 10 } },
          grid: { display: false, drawTicks: false },
          border: { display: false },
          title: { display: true, text: ["Instantaneous", "firing rate (Hz)"], color: "#000", font: { family: SANS, size: 15 }, padding: { top: 26, bottom: 0 } },
        },
      },
    },
    plugins: [framePlugin],
  };
}

function ChartBox({ x, y, w, h, make }: { x: number; y: number; w: number; h: number; make: () => any }) {
  const ref = useRef<HTMLCanvasElement>(null);
  useEffect(() => {
    const chart = new Chart(ref.current as HTMLCanvasElement, make());
    return () => chart.destroy();
  }, []);
  return <canvas ref={ref} width={w} height={h} style={{ position: "absolute", left: x, top: y, width: w, height: h }} />;
}

function Inset({ x, y, w, h, border, make }: { x: number; y: number; w: number; h: number; border: string; make: () => any }) {
  return (
    <div style={{ position: "absolute", left: x, top: y, width: w, height: h, boxSizing: "border-box", border, background: "#fff" }}>
      <ChartBox x={0} y={0} w={w - 2} h={h - 2} make={make} />
    </div>
  );
}

function Label({ x, y, text, size, bold, family }: { x: number; y: number; text: string; size: number; bold?: boolean; family: string }) {
  return (
    <div style={{ position: "absolute", left: x, top: y, fontFamily: family, fontSize: size, fontWeight: bold ? 700 : 400, lineHeight: 1, whiteSpace: "nowrap", color: "#000" }}>
      {text}
    </div>
  );
}

// ---------------- chart factories ---------------------------------------------------------
const makeTraceA = () => traceConfig(traceASpikeTimes, traceAPeaks, traceATroughs, 10, -53, 132);
const makeTraceC = () =>
  traceConfig(traceCSpikeTimes, traceCPeaks, traceCTroughs, 1.8, -83, 117, [
    lineDs([{ x: scaleBarStartS, y: scaleBarLevel }, { x: scaleBarStartS + scaleBarLengthS, y: scaleBarLevel }], "#000", 2.2),
  ]);
const makeTraceE = () => traceConfig(traceESpikeTimes, traceEPeaks, traceETroughs, 1.8, -32, 138);

const makeScatterB = () => scatterConfig([dotDs(rateBCore, 3.2), ringDs(rateBFringe, 2.4, 1)], 11, 5);
const makeScatterD = () =>
  scatterConfig([dotDs(rateDCore, 2.4), ringDs(rateDHigh, 2.4, 1.1), ringDs(rateDLow, 2.4, 1.1), ringDs(rateDSparse, 2.4, 1.1)], 12, 4);
const makeScatterF = () => scatterConfig([ringDs(rateFLow, 2.5, 1), ringDs(rateFMid, 2.5, 1), ringDs(rateFHigh, 2.5, 1)], 15, 4);

const curve = (xs: number[], ys: number[], color: string, width: number) =>
  lineDs(zipXY(xs, ys), color, width, { cubicInterpolationMode: "monotone" });

const makeInsetB = () =>
  plainConfig([curve(insetBHz, insetBBlack, "#000", 1.6), curve(insetBHz, insetBGray, "#7a7a7a", 1.6)], 8.29, 20.71, -0.12, 1.2);
const makeInsetD = () =>
  plainConfig([curve(insetDHz, insetDBlack, "#000", 2), curve(insetDHz, insetDGray, "#808080", 2)], -4.24, 21.62, -0.15, 1.04);
const makeInsetF = () =>
  plainConfig([curve(insetFBlackHz, insetFBlack, "#000", 2.2), curve(insetFGrayHz, insetFGray, "#808080", 1.5)], -4.5, 17, -0.088, 1.17);
const makeInsetC = () =>
  plainConfig(
    [
      lineDs([{ x: insetCBarMs[0], y: insetCBarLevel }, { x: insetCBarMs[1], y: insetCBarLevel }], "#000", 2),
      lineDs(zipXY(insetCTimesMs, insetCWave), "#555", 1),
    ],
    0,
    16.6,
    -0.61,
    1.126
  );

export default function App() {
  return (
    <div style={{ position: "absolute", left: 0, top: 0, width: 743, height: 622, background: "#fff", overflow: "hidden" }}>
      <ChartBox x={35} y={10} w={452} h={185} make={makeTraceA} />
      <ChartBox x={35} y={205} w={452} h={200} make={makeTraceC} />
      <ChartBox x={35} y={425} w={452} h={170} make={makeTraceE} />
      <ChartBox x={480} y={0} w={263} h={210} make={makeScatterB} />
      <ChartBox x={480} y={210} w={263} h={203} make={makeScatterD} />
      <ChartBox x={480} y={413} w={263} h={205} make={makeScatterF} />

      <Inset x={170} y={214} w={60} h={57} border="1px solid #333" make={makeInsetC} />
      <Inset x={648} y={12} w={89} h={46} border="1px dotted #000" make={makeInsetB} />
      <Inset x={648} y={228} w={89} h={61} border="1px dotted #000" make={makeInsetD} />
      <Inset x={648} y={428} w={88} h={59} border="1px dotted #000" make={makeInsetF} />

      <Label x={206} y={230} text="2 ms" size={12} family={SERIF} />
      <Label x={340} y={396.6} text="1 s" size={14} family={SERIF} />
      <Label x={653} y={18} text="16 Hz" size={12.5} family={SERIF} />
      <Label x={653} y={31.3} text="17 Hz" size={12.5} family={SERIF} />
      <Label x={649} y={236.3} text="2 Hz" size={12.5} family={SERIF} />
      <Label x={698} y={264.6} text="13 Hz" size={12.5} family={SERIF} />
      <Label x={657} y={442} text="5 Hz" size={12.5} family={SERIF} />
      <Label x={698} y={442} text="14 Hz" size={12.5} family={SERIF} />

      <Label x={0} y={1} text="A" size={23} bold family={SANS} />
      <Label x={500} y={-1.3} text="B" size={23} bold family={SANS} />
      <Label x={1} y={209.7} text="C" size={23} bold family={SANS} />
      <Label x={500} y={207} text="D" size={23} bold family={SANS} />
      <Label x={2} y={410.3} text="E" size={23} bold family={SANS} />
      <Label x={500} y={410.3} text="F" size={23} bold family={SANS} />
    </div>
  );
}
